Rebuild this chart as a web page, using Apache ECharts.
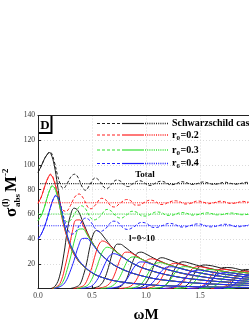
<!DOCTYPE html>
<html><head><meta charset="utf-8">
<script src="https://cdn.jsdelivr.net/npm/echarts@6/dist/echarts.min.js"></script>
<style>html,body{margin:0;padding:0;background:#fff;overflow:hidden}#c{width:264px;height:323px}</style>
</head><body><div id="c"></div>
<script>
// ---- data (omega M, sigma M^-2) ----
const seriesNames = ['Schwarzschild case', 'r0=0.2', 'r0=0.3', 'r0=0.4'];
const geometricLimits = [84.8, 69.4, 60.3, 50.8];

const schwPartials = [
 [[0,94],[0.03,99],[0.06,105],[0.09,109],[0.105,110],[0.12,109],[0.15,100],[0.18,84],[0.21,66],[0.25,48],[0.3,34],[0.35,25.5],[0.4,19.8],[0.5,12.7],[0.6,8.8],[0.75,5.6],[1.0,3.2],[1.25,2.0],[1.5,1.4],[1.75,1.0],[2.0,0.8]],
 [[0.12,0],[0.16,2],[0.2,10],[0.24,28],[0.27,46],[0.3,59],[0.335,65],[0.37,63],[0.42,53],[0.5,37.7],[0.6,26.2],[0.75,16.8],[1.0,9.4],[1.25,6.0],[1.5,4.2],[1.75,3.1],[2.0,2.4]],
 [[0.3,0],[0.359,1.5],[0.389,3.5],[0.42,10.6],[0.451,20.8],[0.481,33.9],[0.512,43.9],[0.542,47.0],[0.573,45.6],[0.604,42.4],[0.7,32.1],[0.85,21.7],[1.0,15.7],[1.25,10.05],[1.5,6.98],[1.75,5.13],[2.0,3.93]],
 [[0.48,0],[0.551,1.3],[0.582,3.1],[0.612,7.0],[0.643,14.3],[0.674,24.2],[0.704,32.4],[0.735,35.9],[0.765,35.8],[0.796,34.1],[0.9,27.15],[1.0,22.0],[1.25,14.07],[1.5,9.77],[1.75,7.18],[2.0,5.5]],
 [[0.68,0],[0.744,0.9],[0.774,2.2],[0.805,5.2],[0.835,10.9],[0.866,18.9],[0.897,25.7],[0.927,29.0],[0.958,29.4],[0.988,28.4],[1.1,23.37],[1.25,18.1],[1.5,12.57],[1.75,9.23],[2.0,7.07]],
 [[0.87,0],[0.936,0.7],[0.967,1.75],[0.997,4.1],[1.028,8.8],[1.059,15.4],[1.089,21.3],[1.12,24.3],[1.15,24.9],[1.181,24.3],[1.3,20.45],[1.5,15.36],[1.75,11.28],[2.0,8.64]],
 [[1.06,0],[1.129,0.6],[1.159,1.4],[1.19,3.4],[1.22,7.4],[1.251,13.05],[1.282,18.2],[1.312,20.9],[1.343,21.6],[1.373,21.3],[1.5,18.15],[1.75,13.34],[2.0,10.21]],
 [[1.25,0],[1.321,0.5],[1.352,1.2],[1.382,2.9],[1.413,6.3],[1.443,11.3],[1.474,15.9],[1.505,18.3],[1.535,19.0],[1.566,18.9],[1.75,15.39],[2.0,11.78]],
 [[1.44,0],[1.513,0.4],[1.544,1.1],[1.575,2.6],[1.605,5.6],[1.636,10.0],[1.666,14.1],[1.697,16.3],[1.728,17.0],[1.758,17.0],[1.9,14.75],[2.05,12.71]],
 [[1.63,0],[1.706,0.4],[1.737,0.9],[1.767,2.3],[1.798,5.0],[1.828,8.9],[1.859,12.6],[1.89,14.7],[1.92,15.4],[1.951,15.4],[1.981,15.1],[2.05,14.2]]
];
const r02Partials = [
 [[0,69],[0.03,74],[0.06,82],[0.09,89],[0.115,92],[0.14,89],[0.17,80],[0.2,67],[0.23,54],[0.27,41],[0.3,33.5],[0.35,25.5],[0.4,19.8],[0.5,12.7],[0.6,8.8],[0.75,5.6],[1.0,3.2],[1.25,2.0],[1.5,1.4],[1.75,1.0],[2.0,0.8]],
 [[0.13,0],[0.184,2],[0.218,7],[0.251,17.8],[0.285,31.2],[0.319,46.3],[0.353,55.4],[0.387,55.5],[0.42,50.8],[0.454,44.9],[0.5,37.5],[0.6,26.2],[0.75,16.8],[1.0,9.4],[1.25,6.0],[1.5,4.2],[1.75,3.1],[2.0,2.4]],
 [[0.33,0],[0.397,1.3],[0.43,3],[0.464,8.7],[0.498,17.0],[0.532,27.8],[0.566,35.9],[0.599,38.5],[0.633,37.3],[0.667,34.7],[0.75,27.8],[0.85,21.7],[1.0,15.7],[1.25,10.05],[1.5,6.98],[1.75,5.13],[2.0,3.93]],
 [[0.53,0],[0.609,1.1],[0.643,2.5],[0.677,5.7],[0.711,11.7],[0.744,19.8],[0.778,26.5],[0.812,29.4],[0.846,29.3],[0.88,27.9],[1.0,22.0],[1.25,14.07],[1.5,9.77],[1.75,7.18],[2.0,5.5]],
 [[0.75,0],[0.822,0.75],[0.856,1.8],[0.89,4.3],[0.923,8.9],[0.957,15.4],[0.991,21.1],[1.025,23.7],[1.059,24.0],[1.092,23.3],[1.25,18.1],[1.5,12.57],[1.75,9.23],[2.0,7.07]],
 [[0.96,0],[1.035,0.6],[1.068,1.4],[1.102,3.4],[1.136,7.2],[1.17,12.6],[1.204,17.4],[1.237,19.9],[1.271,20.4],[1.305,19.9],[1.5,15.36],[1.75,11.28],[2.0,8.64]],
 [[1.17,0],[1.247,0.5],[1.281,1.2],[1.315,2.8],[1.349,6.0],[1.383,10.7],[1.416,14.9],[1.45,17.1],[1.484,17.7],[1.518,17.4],[1.75,13.34],[2.0,10.21]],
 [[1.38,0],[1.46,0.4],[1.494,1.0],[1.528,2.4],[1.561,5.2],[1.595,9.3],[1.629,13.0],[1.663,15.0],[1.697,15.6],[1.73,15.5],[1.9,13.0],[2.05,11.21]],
 [[1.6,0],[1.673,0.3],[1.707,0.9],[1.74,2.1],[1.774,4.6],[1.808,8.2],[1.842,11.5],[1.876,13.4],[1.909,14.0],[1.943,13.9],[1.977,13.6],[2.05,12.7]]
];
const r03Partials = [
 [[0,55],[0.03,59],[0.06,66],[0.09,75],[0.115,81],[0.13,83],[0.155,81],[0.18,74],[0.21,63],[0.25,49],[0.3,35],[0.35,26.5],[0.4,20],[0.5,12.7],[0.6,8.8],[0.75,5.6],[1.0,3.2],[1.25,2.0],[1.5,1.4],[1.75,1.0],[2.0,0.8]],
 [[0.14,0],[0.197,2],[0.234,6],[0.27,15.4],[0.306,27.0],[0.342,40.2],[0.379,48.0],[0.415,48.2],[0.451,44.1],[0.488,38.9],[0.6,26.1],[0.75,16.8],[1.0,9.4],[1.25,6.0],[1.5,4.2],[1.75,3.1],[2.0,2.4]],
 [[0.36,0],[0.425,1.2],[0.462,2.8],[0.498,7.5],[0.534,14.8],[0.571,24.1],[0.607,31.2],[0.643,33.4],[0.68,32.4],[0.716,30.1],[0.85,21.7],[1.0,15.7],[1.25,10.05],[1.5,6.98],[1.75,5.13],[2.0,3.93]],
 [[0.58,0],[0.654,0.9],[0.69,2.2],[0.726,5.0],[0.763,10.2],[0.799,17.2],[0.835,23.1],[0.872,25.5],[0.908,25.4],[0.944,24.2],[1.1,18.17],[1.25,14.07],[1.5,9.77],[1.75,7.18],[2.0,5.5]],
 [[0.8,0],[0.882,0.65],[0.918,1.6],[0.955,3.7],[0.991,7.7],[1.027,13.4],[1.063,18.3],[1.1,20.6],[1.136,20.9],[1.172,20.2],[1.3,16.73],[1.5,12.57],[1.75,9.23],[2.0,7.07]],
 [[1.03,0],[1.11,0.5],[1.147,1.25],[1.183,2.9],[1.219,6.25],[1.255,11.0],[1.292,15.1],[1.328,17.3],[1.364,17.7],[1.401,17.3],[1.55,14.38],[1.75,11.28],[2.0,8.64]],
 [[1.26,0],[1.338,0.4],[1.375,1.0],[1.411,2.4],[1.447,5.2],[1.484,9.3],[1.52,12.9],[1.556,14.9],[1.593,15.3],[1.629,15.1],[1.8,12.6],[2.0,10.21]],
 [[1.49,0],[1.567,0.35],[1.603,0.9],[1.639,2.1],[1.676,4.5],[1.712,8.0],[1.748,11.3],[1.785,13.0],[1.821,13.5],[1.857,13.4],[2.0,11.78]],
 [[1.72,0],[1.795,0.3],[1.831,0.75],[1.868,1.8],[1.904,4.0],[1.94,7.1],[1.976,10.0],[2.013,11.6]]
];
const r04Partials = [
 [[0,40],[0.03,44],[0.06,50],[0.09,58],[0.12,67],[0.145,73],[0.165,75],[0.19,72],[0.22,62],[0.25,50],[0.29,38],[0.34,28.5],[0.4,20.5],[0.5,12.9],[0.6,8.8],[0.75,5.6],[1.0,3.2],[1.25,2.0],[1.5,1.4],[1.75,1.0],[2.0,0.8]],
 [[0.15,0],[0.215,2],[0.255,5.5],[0.294,13.0],[0.334,22.8],[0.373,33.9],[0.413,40.5],[0.452,40.6],[0.492,37.2],[0.531,32.8],[0.6,26.1],[0.75,16.8],[1.0,9.4],[1.25,6.0],[1.5,4.2],[1.75,3.1],[2.0,2.4]],
 [[0.4,0],[0.464,1.0],[0.503,2.4],[0.543,6.4],[0.582,12.5],[0.622,20.3],[0.661,26.3],[0.701,28.2],[0.74,27.3],[0.78,25.4],[0.9,19.39],[1.0,15.7],[1.25,10.05],[1.5,6.98],[1.75,5.13],[2.0,3.93]],
 [[0.64,0],[0.712,0.8],[0.752,1.8],[0.791,4.2],[0.831,8.6],[0.87,14.5],[0.91,19.4],[0.949,21.5],[0.989,21.4],[1.028,20.4],[1.2,15.27],[1.5,9.77],[1.75,7.18],[2.0,5.5]],
 [[0.88,0],[0.961,0.55],[1.0,1.3],[1.04,3.1],[1.079,6.5],[1.119,11.3],[1.158,15.4],[1.198,17.4],[1.237,17.6],[1.277,17.0],[1.45,13.45],[1.75,9.23],[2.0,7.07]],
 [[1.13,0],[1.21,0.4],[1.249,1.05],[1.289,2.5],[1.328,5.3],[1.368,9.2],[1.407,12.8],[1.447,14.5],[1.486,14.9],[1.526,14.6],[1.7,11.96],[2.0,8.64]],
 [[1.38,0],[1.458,0.35],[1.498,0.85],[1.537,2.1],[1.577,4.4],[1.616,7.8],[1.656,10.9],[1.695,12.5],[1.735,12.9],[1.774,12.7],[2.0,10.21]],
 [[1.63,0],[1.707,0.3],[1.746,0.7],[1.786,1.8],[1.825,3.8],[1.865,6.8],[1.904,9.5],[1.944,11.0],[1.983,11.4],[2.05,11.0]]
];

const schwTotal = [[0,94],[0.03,99],[0.06,105],[0.09,109],[0.105,110.5],[0.125,109.5],[0.15,103],[0.18,92],[0.21,83.5],[0.235,81],[0.27,85],[0.31,91],[0.34,92.5],[0.37,90],[0.41,82],[0.44,79.5],[0.48,84],[0.53,89.5],[0.57,87],[0.61,82],[0.64,81],[0.68,84.5],[0.73,87.8],[0.77,86.5],[0.81,83],[0.84,82.5],[0.88,85],[0.94,87.2],[0.98,86],[1.02,83.5],[1.05,83.5],[1.09,85.5],[1.14,86.8],[1.19,85.5],[1.22,84],[1.26,84.2],[1.33,86.4],[1.38,85.5],[1.42,84.2],[1.46,84.5],[1.53,86.2],[1.58,85.3],[1.62,84.3],[1.66,84.6],[1.73,86],[1.78,85.2],[1.82,84.4],[1.86,84.7],[1.93,85.9],[1.98,85.2],[2.0,85]];
const r02Total = [[0,69],[0.03,74],[0.06,82],[0.09,89],[0.115,92.5],[0.14,90],[0.17,81],[0.2,70],[0.23,63.5],[0.26,62.5],[0.3,67],[0.34,74],[0.38,76.5],[0.42,73],[0.46,66],[0.49,64.5],[0.53,67.5],[0.59,73],[0.63,71.5],[0.68,66.5],[0.71,66],[0.76,69],[0.82,72],[0.86,71],[0.9,67.5],[0.94,67.5],[0.98,69.5],[1.04,71.5],[1.09,70.3],[1.13,68],[1.17,68.2],[1.21,69.8],[1.27,71],[1.32,70],[1.36,68.4],[1.4,68.6],[1.48,70.8],[1.53,70],[1.57,68.6],[1.61,68.9],[1.69,70.6],[1.74,69.9],[1.78,68.8],[1.82,69],[1.9,70.5],[1.95,69.8],[2.0,69]];
const r03Total = [[0,55],[0.03,59],[0.06,66],[0.09,75],[0.115,81],[0.13,83],[0.155,81.5],[0.18,75],[0.21,65],[0.24,57],[0.27,54],[0.3,55],[0.35,62],[0.4,67],[0.44,64.5],[0.48,58],[0.52,55.5],[0.57,58],[0.64,64],[0.68,62.5],[0.73,58],[0.77,57],[0.82,59.5],[0.87,62.5],[0.92,61.5],[0.96,58.8],[1.0,58.6],[1.05,60.5],[1.1,62],[1.15,61.2],[1.19,59.2],[1.23,59.2],[1.33,61.5],[1.38,60.8],[1.42,59.4],[1.46,59.5],[1.56,61.3],[1.61,60.6],[1.65,59.6],[1.69,59.7],[1.79,61.1],[1.84,60.5],[1.88,59.7],[1.92,59.8],[2.0,60.8]];
const r04Total = [[0,40],[0.03,44],[0.06,50],[0.09,58],[0.12,67],[0.145,73],[0.165,75.5],[0.19,73],[0.22,64],[0.25,54],[0.28,47],[0.31,44],[0.34,45],[0.39,52],[0.44,57],[0.48,55],[0.53,48.5],[0.57,46],[0.62,48],[0.7,54.5],[0.74,53.5],[0.79,49],[0.83,47.8],[0.88,49.5],[0.96,53.5],[1.01,52.5],[1.05,49.8],[1.09,49.3],[1.14,50.5],[1.22,52.7],[1.27,51.8],[1.31,50],[1.35,49.7],[1.4,50.6],[1.48,52.3],[1.53,51.6],[1.57,50.1],[1.61,49.9],[1.66,50.6],[1.73,52],[1.78,51.4],[1.82,50.2],[1.86,50],[1.91,50.6],[1.98,51.7],[2.0,51.6]];

// ---- build ----
const partialSets = [schwPartials, r02Partials, r03Partials, r04Partials];
const totals = [schwTotal, r02Total, r03Total, r04Total];
const colors = ['#1e1e1e', '#ff1f1f', '#33e033', '#2020ff'];
const SERIF = '"Liberation Serif","Times New Roman",serif';

const series = [];
partialSets.forEach((set, m) => set.forEach(curve => series.push({
  type: 'line', data: curve, showSymbol: false, smooth: 0.4, silent: true,
  lineStyle: { color: colors[m], width: 1 }, z: 2
})));
totals.forEach((t, m) => series.push({
  type: 'line', data: t, showSymbol: false, smooth: 0.4, silent: true,
  lineStyle: { color: colors[m], width: 1, type: [3, 2] }, z: 3
}));
geometricLimits.forEach((v, m) => series.push({
  type: 'line', data: [[0, v], [2, v]], showSymbol: false, silent: true,
  lineStyle: { color: colors[m], width: 1.2, type: [1, 1.2] }, z: 3
}));

// legend graphics
const legendRows = [123.5, 135, 150, 163.5];
const graphic = [];
legendRows.forEach((y, m) => {
  const c = colors[m];
  graphic.push({ type: 'line', z: 10, shape: { x1: 97, y1: y, x2: 122, y2: y }, style: { stroke: c, fill: null, lineWidth: 1.2, lineDash: [3, 2] } });
  graphic.push({ type: 'line', z: 10, shape: { x1: 122, y1: y, x2: 144, y2: y }, style: { stroke: c, fill: null, lineWidth: 1.2 } });
  graphic.push({ type: 'line', z: 10, shape: { x1: 145, y1: y, x2: 168, y2: y }, style: { stroke: c, fill: null, lineWidth: 1.3, lineDash: [1, 1.2] } });
  if (m === 0) {
    graphic.push({ type: 'text', x: 172, y: y, style: { text: seriesNames[0], font: 'bold 10px ' + SERIF, fill: '#000', verticalAlign: 'middle', textVerticalAlign: 'middle' } });
  } else {
    const parts = seriesNames[m].split('0=');
    graphic.push({ type: 'text', x: 172, y: y, style: { text: 'r', font: 'bold 10px ' + SERIF, fill: '#000', verticalAlign: 'middle', textVerticalAlign: 'middle' } });
    graphic.push({ type: 'text', x: 176.5, y: y + 3, style: { text: '0', font: 'bold 7px ' + SERIF, fill: '#000', verticalAlign: 'middle', textVerticalAlign: 'middle' } });
    graphic.push({ type: 'text', x: 180.5, y: y, style: { text: '=' + parts[1], font: 'bold 10px ' + SERIF, fill: '#000', verticalAlign: 'middle', textVerticalAlign: 'middle' } });
  }
});
graphic.push({ type: 'text', x: 145, y: 175, style: { text: 'Total', font: 'bold 9px ' + SERIF, fill: '#000', align: 'center', textAlign: 'center', verticalAlign: 'middle', textVerticalAlign: 'middle' } });
graphic.push({ type: 'text', x: 142, y: 239, style: { text: 'l=0~10', font: 'bold 9px ' + SERIF, fill: '#000', align: 'center', textAlign: 'center', verticalAlign: 'middle', textVerticalAlign: 'middle' } });
// panel label
graphic.push({ type: 'polyline', shape: { points: [[51.5, 116], [51.5, 133], [38, 133]] }, style: { stroke: '#000', lineWidth: 2, fill: null } });
graphic.push({ type: 'text', x: 45, y: 125.5, style: { text: 'D', font: 'bold 13px ' + SERIF, fill: '#000', align: 'center', textAlign: 'center', verticalAlign: 'middle', textVerticalAlign: 'middle' } });
// x title
graphic.push({ type: 'text', x: 146, y: 315, style: { text: 'ωM', font: 'bold 15px ' + SERIF, fill: '#000', align: 'center', textAlign: 'center', verticalAlign: 'middle', textVerticalAlign: 'middle' } });
// y title (rotated)
const tv = { verticalAlign: 'middle', textVerticalAlign: 'middle', fill: '#000' };
graphic.push({ type: 'group', x: 12, y: 190, rotation: Math.PI / 2, children: [
  { type: 'text', x: -27, y: 0, style: Object.assign({ text: 'σ', font: 'bold 17px ' + SERIF }, tv) },
  { type: 'text', x: -17, y: -6, style: Object.assign({ text: '(l)', font: 'bold 9px ' + SERIF }, tv) },
  { type: 'text', x: -17, y: 6, style: Object.assign({ text: 'abs', font: 'bold 9px ' + SERIF }, tv) },
  { type: 'text', x: -2, y: 0, style: Object.assign({ text: 'M', font: 'bold 17px ' + SERIF }, tv) },
  { type: 'text', x: 14, y: -6, style: Object.assign({ text: '-2', font: 'bold 9px ' + SERIF }, tv) }
]});

const splitStyle = { show: true, lineStyle: { color: '#d0d0d0', width: 0.8, type: [1, 2] } };
const chart = echarts.init(document.getElementById('c'), null, { renderer: 'canvas' });
chart.setOption({
  animation: false,
  grid: { left: 38, top: 115.5, right: 10, bottom: 34.5, containLabel: false },
  xAxis: [{
    type: 'value', min: 0, max: 2, interval: 0.5,
    axisLine: { show: true, onZero: false, lineStyle: { color: '#222', width: 1 } },
    axisTick: { show: true, inside: true, length: 3, lineStyle: { color: '#222' } },
    axisLabel: { formatter: v => v.toFixed(1), fontFamily: SERIF, fontSize: 7.5, color: '#333', margin: 4 },
    splitLine: splitStyle
  }, {
    type: 'value', position: 'top', min: 0, max: 2, interval: 0.5,
    axisLine: { show: true, onZero: false, lineStyle: { color: '#222', width: 1.2 } },
    axisTick: { show: false }, axisLabel: { show: false }, splitLine: { show: false }
  }],
  yAxis: {
    type: 'value', min: 0, max: 140, interval: 20,
    axisLine: { show: true, lineStyle: { color: '#222', width: 1 } },
    axisTick: { show: true, inside: true, length: 3, lineStyle: { color: '#222' } },
    axisLabel: { fontFamily: SERIF, fontSize: 7.5, color: '#333', margin: 3, showMinLabel: false },
    splitLine: splitStyle
  },
  graphic: graphic,
  series: series
});
</script></body></html>
